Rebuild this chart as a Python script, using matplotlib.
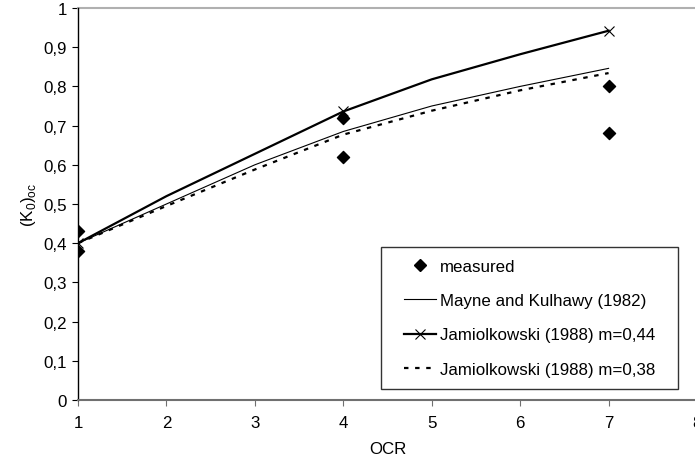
import matplotlib
matplotlib.use("Agg")
import matplotlib.pyplot as plt
from matplotlib.lines import Line2D
from matplotlib.legend_handler import HandlerLine2D

plt.rcParams['font.family'] = ['Liberation Sans', 'DejaVu Sans']
plt.rcParams['mathtext.fontset'] = 'custom'
plt.rcParams['mathtext.rm'] = 'Liberation Sans'

# data
meas_x = [1, 1, 4, 4, 7, 7]
meas_y = [0.43, 0.38, 0.72, 0.62, 0.80, 0.68]

ocr = [1, 2, 3, 4, 5, 6, 7]
mayne = [0.40, 0.500, 0.600, 0.685, 0.750, 0.800, 0.846]
jam044 = [0.40, 0.520, 0.628, 0.736, 0.818, 0.882, 0.942]
jam038 = [0.40, 0.495, 0.588, 0.677, 0.738, 0.790, 0.834]

xticks = [1, 2, 3, 4, 5, 6, 7, 8]
yticks = [0, 0.1, 0.2, 0.3, 0.4, 0.5, 0.6, 0.7, 0.8, 0.9, 1.0]

FS = 12.2


class ShortHandler(HandlerLine2D):
    def __init__(self, shift, **kw):
        super().__init__(**kw)
        self.shift = shift

    def create_artists(self, legend, orig_handle, xdescent, ydescent, width, height, fontsize, trans):
        return super().create_artists(legend, orig_handle, xdescent - self.shift, ydescent,
                                      width - self.shift, height, fontsize, trans)


fig = plt.figure(figsize=(6.95, 4.64), dpi=100)
ax = fig.add_axes([78/695, 63/464, 619/695, 392/464])

ax.plot(ocr, mayne, color='black', lw=0.8, label='Mayne and Kulhawy (1982)')
ax.plot(ocr, jam044, color='black', lw=1.6, marker='x', markevery=[0, 3, 6],
        markersize=7, markeredgewidth=0.8, label='Jamiolkowski (1988) m=0,44')
ax.plot(ocr, jam038, color='black', lw=1.6, ls=(0, (2, 3)), label='Jamiolkowski (1988) m=0,38')
ax.scatter(meas_x, meas_y, marker='D', s=38, color='black', zorder=5, label='measured')

ax.set_xlim(1, 8)
ax.set_ylim(0, 1)
ax.set_xticks(xticks)
ax.set_xticklabels([str(t) for t in xticks], fontsize=FS)
ax.set_yticks(yticks)
ax.set_yticklabels(['0' if t == 0 else ('1' if t == 1 else f'{t:.1f}'.replace('.', ',')) for t in yticks], fontsize=FS)

ax.axhline(1.0, color='#b0b0b0', lw=1.5, clip_on=False)
for s in ['top', 'right']:
    ax.spines[s].set_visible(False)
ax.spines['left'].set_color('black')
ax.spines['left'].set_linewidth(1.0)
ax.spines['bottom'].set_color('#707070')
ax.spines['bottom'].set_linewidth(1.5)
ax.tick_params(axis='x', direction='out', length=4, color='#707070', pad=7)
ax.tick_params(axis='y', direction='out', length=4, color='black', pad=4)

ax.set_xlabel('OCR', fontsize=FS, labelpad=8)
ax.set_ylabel(r'(K$_\mathregular{0}$)$_\mathregular{oc}$', fontsize=FS, labelpad=4)

handles = [
    Line2D([], [], ls='none', marker='D', color='black', markersize=6.5),
    Line2D([], [], color='black', lw=0.8),
    Line2D([], [], color='black', lw=1.6, marker='x', markersize=7, markeredgewidth=0.8),
    Line2D([], [], color='black', lw=1.6, ls=(0, (2, 3))),
]
labels = ['measured', 'Mayne and Kulhawy (1982)', 'Jamiolkowski (1988) m=0,44', 'Jamiolkowski (1988) m=0,38']
hm = {h: ShortHandler(8) for h in handles}
leg = ax.legend(handles, labels, handler_map=hm, loc='upper left', mode='expand',
                bbox_to_anchor=(381/695, 1 - 386/464, 297/695, 138/464),
                bbox_transform=fig.transFigure, fontsize=FS, frameon=True, fancybox=False,
                edgecolor='black', handlelength=2.55, handletextpad=0.25, labelspacing=1.14,
                borderpad=0.7, borderaxespad=0)
leg.get_frame().set_linewidth(1.0)

fig.savefig('out.png', dpi=100)
